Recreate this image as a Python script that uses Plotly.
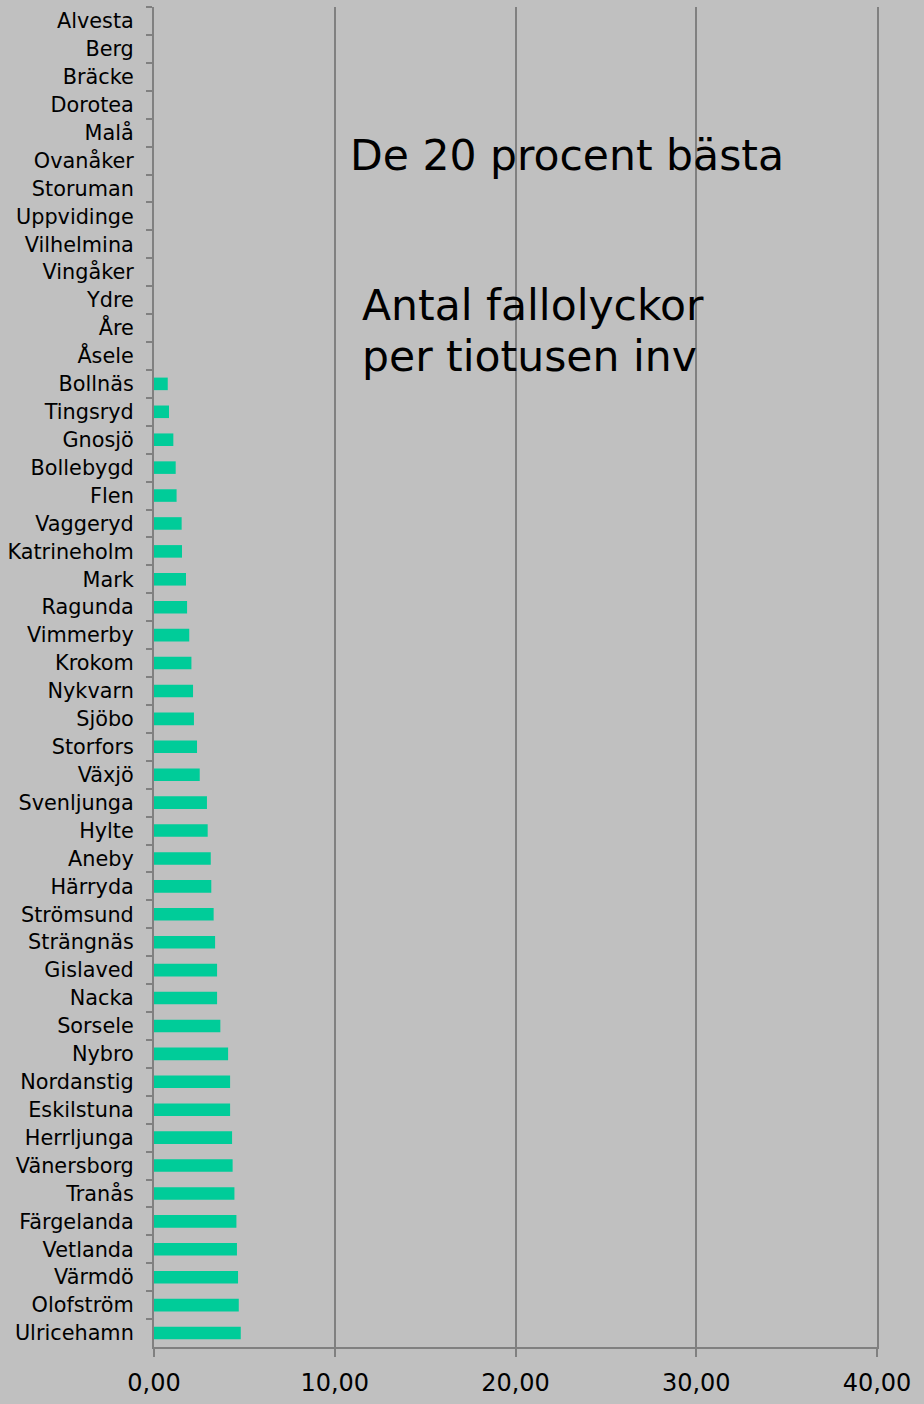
import plotly.graph_objects as go

kommuner = ["Alvesta", "Berg", "Bräcke", "Dorotea", "Malå", "Ovanåker", "Storuman",
            "Uppvidinge", "Vilhelmina", "Vingåker", "Ydre", "Åre", "Åsele",
            "Bollnäs", "Tingsryd", "Gnosjö", "Bollebygd", "Flen", "Vaggeryd",
            "Katrineholm", "Mark", "Ragunda", "Vimmerby", "Krokom", "Nykvarn",
            "Sjöbo", "Storfors", "Växjö", "Svenljunga", "Hylte", "Aneby", "Härryda",
            "Strömsund", "Strängnäs", "Gislaved", "Nacka", "Sorsele", "Nybro",
            "Nordanstig", "Eskilstuna", "Herrljunga", "Vänersborg", "Tranås",
            "Färgelanda", "Vetlanda", "Värmdö", "Olofström", "Ulricehamn"]

fallolyckor = [0, 0, 0, 0, 0, 0, 0, 0, 0, 0, 0, 0, 0,
               0.76, 0.83, 1.07, 1.20, 1.25, 1.53, 1.55, 1.77, 1.83, 1.95, 2.07,
               2.16, 2.21, 2.38, 2.53, 2.93, 2.97, 3.14, 3.17, 3.30, 3.38, 3.49,
               3.49, 3.67, 4.10, 4.21, 4.21, 4.32, 4.35, 4.45, 4.56, 4.59, 4.65,
               4.69, 4.80]

x_ticks = [0, 10, 20, 30, 40]
x_tick_labels = ["0,00", "10,00", "20,00", "30,00", "40,00"]

fig = go.Figure(go.Bar(
    x=fallolyckor, y=kommuner, orientation="h",
    marker=dict(color="#00cc99", line=dict(width=0)),
    width=0.45,
))

font = "Verdana, DejaVu Sans, sans-serif"

fig.update_layout(
    width=924, height=1404,
    margin=dict(l=154, r=47, t=7, b=57),
    paper_bgcolor="#c0c0c0", plot_bgcolor="#c0c0c0",
    showlegend=False,
    font=dict(family=font, color="#000000"),
    xaxis=dict(
        range=[0, 40], tickvals=x_ticks, ticktext=x_tick_labels,
        showgrid=True, gridcolor="#808080", gridwidth=1.5,
        showline=True, linecolor="#808080", linewidth=2,
        ticks="outside", ticklen=8, tickcolor="#808080", tickwidth=2,
        tickfont=dict(size=24, family=font, color="#000000"),
        zeroline=False, fixedrange=True, ticklabelstandoff=5,
    ),
    yaxis=dict(
        type="category", autorange="reversed",
        showline=True, linecolor="#808080", linewidth=2, mirror=True,
        ticks="outside", ticklen=6, tickcolor="#808080", tickwidth=2,
        tickson="boundaries",
        tickfont=dict(size=20.8, family=font, color="#000000"),
        showgrid=False, ticklabelstandoff=14,
    ),
    annotations=[
        dict(text="De 20 procent bästa", xref="paper", yref="paper",
             x=(348 - 154) / 723, y=1 - (155 - 7) / 1340, xanchor="left", yanchor="middle",
             showarrow=False, font=dict(size=42.5, family=font, color="#000000")),
        dict(text="Antal fallolyckor", xref="paper", yref="paper",
             x=(360 - 154) / 723, y=1 - (305 - 7) / 1340, xanchor="left", yanchor="middle",
             showarrow=False, font=dict(size=42.5, family=font, color="#000000")),
        dict(text="per tiotusen inv", xref="paper", yref="paper",
             x=(360 - 154) / 723, y=1 - (356 - 7) / 1340, xanchor="left", yanchor="middle",
             showarrow=False, font=dict(size=42.5, family=font, color="#000000")),
    ],
)

fig.write_html("out.html", config={"displayModeBar": False},
               post_script="document.body.style.margin='0';document.body.style.background='#c0c0c0';")
